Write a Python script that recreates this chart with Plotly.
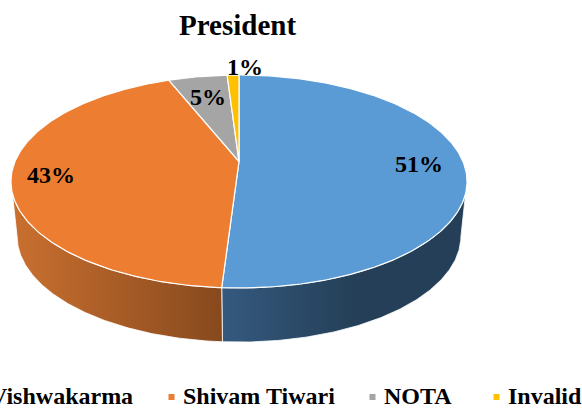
import numpy as np
import plotly.graph_objects as go

title = "President"
names = ["Vishwakarma", "Shivam Tiwari", "NOTA", "Invalid"]
values = [51, 43, 5, 1]
colors = ["#5B9BD5", "#ED7D31", "#A5A5A5", "#FFC000"]

W, H = 582, 409
FONT = "Liberation Serif"

# perspective disc: top face and bottom face of the extruded pie
TOP = dict(cx=239.0, cy=161.5, a=224.0, b=102.74, k=0.1877)
BOT = dict(cx=239.0, cy=218.0, a=218.7, b=103.0, k=0.17)


def project(theta_deg, r=1.0, p=TOP):
    t = np.radians(theta_deg)
    u, v = r * np.sin(t), r * np.cos(t)
    d = 1 + p["k"] * v
    return p["cx"] + p["a"] * u / d, p["cy"] - p["b"] * v / d


total = sum(values)
edges = np.concatenate([[0], np.cumsum(values)]) / total * 360

fig = go.Figure()

# side walls (only the front part of the rim is visible)
wall_start, wall_end = 100.0, 260.0
wall_sets = [
    (wall_start, edges[1], [[0, "#35597F"], [0.55, "#243F57"], [1, "#243F57"]]),
    (edges[1], wall_end, [[0, "#CA7030"], [1, "#87491D"]]),
]
for lo, hi, scale in wall_sets:
    th = np.linspace(lo, hi, 160)
    x1, y1 = project(th, p=TOP)
    x2, y2 = project(th[::-1], p=BOT)
    xs = np.concatenate([x1, x2, x1[:1]])
    ys = np.concatenate([y1, y2, y1[:1]])
    fig.add_trace(go.Scatter(
        x=xs, y=ys, mode="lines", fill="toself",
        fillgradient=dict(type="horizontal", colorscale=scale),
        line=dict(color="white", width=0.8), hoverinfo="skip", showlegend=False,
    ))

# top face
for i, val in enumerate(values):
    th = np.linspace(edges[i], edges[i + 1], max(4, int(val * 5)))
    x, y = project(th)
    cx, cy = project(0.0, 0.0)
    fig.add_trace(go.Scatter(
        x=np.concatenate([[cx], x, [cx]]), y=np.concatenate([[cy], y, [cy]]),
        mode="lines", fill="toself", fillcolor=colors[i],
        line=dict(color="white", width=1.2), hoverinfo="skip", showlegend=False,
    ))

# data labels, placed along each slice's mid angle
label_radius = [0.80, 0.83, 0.73, 1.11]
label_shift = [0, 0, 0, 12]
annotations = []
for i, val in enumerate(values):
    mid = (edges[i] + edges[i + 1]) / 2
    lx, ly = project(mid, label_radius[i])
    annotations.append(dict(
        x=lx + label_shift[i], y=ly, xref="x", yref="y", showarrow=False,
        text=f"<b>{round(val / total * 100)}%</b>",
        font=dict(family=FONT, size=24, color="black"),
    ))

annotations.append(dict(
    x=237, y=25, xref="x", yref="y", showarrow=False, text=f"<b>{title}</b>",
    font=dict(family=FONT, size=29, color="black"),
))

# legend row (first entry runs off the left edge of the picture)
legend_text_x = [133, 183, 384, 508]
legend_marker_x = [None, 171.5, 372.5, 496.5]
legend_y = 396
for i, name in enumerate(names):
    annotations.append(dict(
        x=legend_text_x[i], y=legend_y, xref="x", yref="y", showarrow=False,
        xanchor="right" if i == 0 else "left",
        text=f"<b>{name}</b>", borderpad=0, borderwidth=0,
        font=dict(family=FONT, size=24, color="black"),
    ))
    if legend_marker_x[i] is not None:
        fig.add_trace(go.Scatter(
            x=[legend_marker_x[i]], y=[legend_y + 1], mode="markers",
            marker=dict(symbol="square", size=6, color=colors[i]),
            hoverinfo="skip", showlegend=False,
        ))

fig.update_layout(
    width=W, height=H, margin=dict(l=0, r=0, t=0, b=0),
    paper_bgcolor="white", plot_bgcolor="white", showlegend=False,
    xaxis=dict(range=[0, W], visible=False, fixedrange=True),
    yaxis=dict(range=[H, 0], visible=False, fixedrange=True),
    annotations=annotations,
)
fig.write_html(
    "out.html",
    config=dict(displayModeBar=False),
    post_script="document.body.style.margin='0';document.body.style.overflow='hidden';",
)
